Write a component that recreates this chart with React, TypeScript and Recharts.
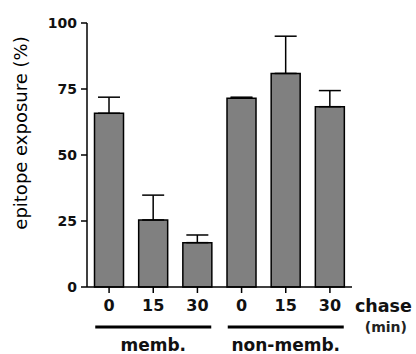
import React from 'react';
import { BarChart, Bar, XAxis, YAxis, ErrorBar, Label } from 'recharts';

const categories = ['0', '15', '30', '0', '15', '30'];
const groups = ['memb.', 'memb.', 'memb.', 'non-memb.', 'non-memb.', 'non-memb.'];
const values = [65.8, 25.4, 16.8, 71.5, 80.9, 68.3];
const errors = [6.1, 9.4, 2.9, 0.4, 14.1, 6.1];
const yTicks = [0, 25, 50, 75, 100];
const unitMain = 'chase';
const unitSub = '(min)';
const yLabel = 'epitope exposure (%)';

const FONT = '"DejaVu Sans", "Liberation Sans", Arial, sans-serif';

const data = categories.map((c, i) => ({
  key: `${groups[i]}-${c}-${i}`,
  cat: c,
  group: groups[i],
  value: values[i],
  err: [0, errors[i]],
}));

const MainTick = (props: any) => {
  const { x, y, index } = props;
  const last = index === categories.length - 1;
  return (
    <g>
      <text x={x} y={y} dy="0.71em" textAnchor="middle" fontSize={16} fontWeight="bold" fontFamily={FONT} style={{ fill: '#111' }}>
        {categories[index]}
      </text>
      {last && (
        <>
          <text x={x + 25} y={y} dy="0.71em" textAnchor="start" fontSize={17.5} fontWeight="bold" fontFamily={FONT} style={{ fill: '#111' }}>
            {unitMain}
          </text>
          <text x={x + 56} y={y + 22} dy="0.71em" textAnchor="middle" fontSize={14} fontWeight="bold" fontFamily={FONT} style={{ fill: '#222' }}>
            {unitSub}
          </text>
        </>
      )}
    </g>
  );
};

const GroupTick = (props: any) => {
  const { x, y, payload } = props;
  return (
    <g>
      <line x1={x - 58} x2={x + 58} y1={y + 10} y2={y + 10} stroke="#000" strokeWidth={3} />
      <text x={x} y={y + 28} textAnchor="middle" dominantBaseline="central" fontSize={17} fontWeight="bold" fontFamily={FONT} style={{ fill: '#111' }}>
        {payload.value}
      </text>
    </g>
  );
};

const renderYLabel = (props: any) => {
  const vb = props.viewBox || { x: 0, y: 23, height: 264 };
  const cx = vb.x + 20;
  const cy = vb.y + 110;
  return (
    <text x={cx} y={cy} transform={`rotate(-90 ${cx} ${cy})`} textAnchor="middle" dominantBaseline="central" fontSize={18} fontFamily={FONT} style={{ fill: '#000', stroke: 'none' }}>
      {yLabel}
    </text>
  );
};

export default function App() {
  return (
    <div style={{ position: 'absolute', left: 0, top: 0, width: 416, height: 354, background: '#fff' }}>
      <BarChart width={416} height={354} data={data} margin={{ top: 23, right: 64, bottom: 0, left: 0 }} barCategoryGap="17%">
        <XAxis
          dataKey="key"
          xAxisId="a"
          height={30}
          tick={<MainTick />}
          tickSize={6}
          tickMargin={7}
          interval={0}
          axisLine={{ stroke: '#000', strokeWidth: 1.5 }}
          tickLine={{ stroke: '#000', strokeWidth: 1.5 }}
        />
        <XAxis
          dataKey="group"
          xAxisId="b"
          allowDuplicatedCategory={false}
          height={37}
          tick={<GroupTick />}
          tickSize={0}
          tickMargin={0}
          axisLine={false}
          tickLine={false}
          interval={0}
        />
        <XAxis dataKey="key" xAxisId="c" orientation="top" height={0} tick={false} tickLine={false} axisLine={{ stroke: '#000', strokeWidth: 1.5 }} />
        <YAxis
          yAxisId="left"
          width={87}
          domain={[0, 100]}
          ticks={yTicks}
          tickSize={6}
          tickMargin={4}
          interval={0}
          axisLine={{ stroke: '#000', strokeWidth: 1.5 }}
          tickLine={{ stroke: '#000', strokeWidth: 1.5 }}
          tick={{ fontSize: 14, fontWeight: 'bold', fontFamily: FONT, fill: '#111' }}
        >
          <Label content={renderYLabel} />
        </YAxis>
        <YAxis yAxisId="right" orientation="right" width={0} domain={[0, 100]} tick={false} tickLine={false} axisLine={{ stroke: '#000', strokeWidth: 1.5 }} />
        <Bar dataKey="value" xAxisId="a" yAxisId="left" fill="#808080" stroke="#000" strokeWidth={1.5} isAnimationActive={false}>
          <ErrorBar dataKey="err" direction="y" width={11} stroke="#000" strokeWidth={1.5} isAnimationActive={false} />
        </Bar>
      </BarChart>
    </div>
  );
}
